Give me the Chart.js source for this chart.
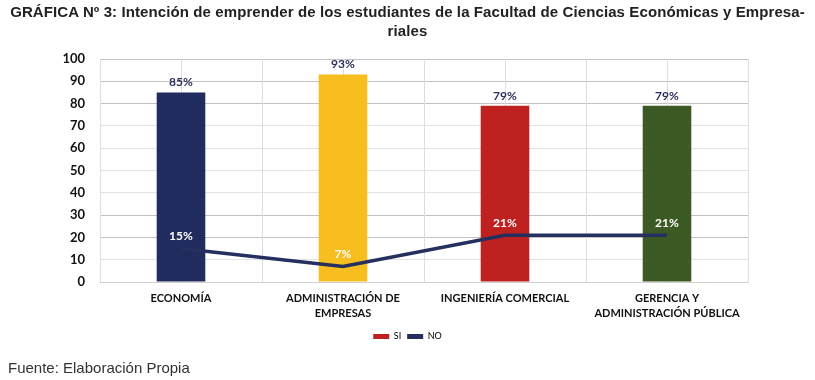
<!DOCTYPE html>
<html>
<head>
<meta charset="utf-8">
<script src="https://cdn.jsdelivr.net/npm/chart.js@4"></script>
<style>
  html, body { margin: 0; padding: 0; background: #fff; }
  #wrap { position: relative; width: 815px; height: 380px; }
  #titulo {
    position: absolute; left: 0; top: 2px; width: 815px; text-align: center;
    font: bold 15px/19px "Liberation Sans", Arial, sans-serif; letter-spacing: 0.1px; color: #222;
  }
  #fuente {
    position: absolute; left: 8px; top: 359px;
    font: 15px/18px "Liberation Sans", Arial, sans-serif; color: #333;
  }
  canvas { position: absolute; left: 0; top: 0; }
</style>
</head>
<body>
<div id="wrap">
  <canvas id="intencionChart" width="815" height="380"></canvas>
  <div id="titulo">GRÁFICA Nº 3: Intención de emprender de los estudiantes de la Facultad de Ciencias Económicas y Empresa-<br>riales</div>
  <div id="fuente">Fuente: Elaboración Propia</div>
</div>
<script>
var carreras = [['ECONOMÍA'], ['ADMINISTRACIÓN DE', 'EMPRESAS'], ['INGENIERÍA COMERCIAL'], ['GERENCIA Y', 'ADMINISTRACIÓN PÚBLICA']];
var siData = [85, 93, 79, 79];
var noData = [15, 7, 21, 21];
var yTicks = [0, 10, 20, 30, 40, 50, 60, 70, 80, 90, 100];
var barColors = ['#202b5e', '#f8bd1f', '#bf2020', '#3d5a25'];

// etiquetas de datos (no hay plugin datalabels)
var valueLabels = {
    id: 'valueLabels',
    afterDatasetsDraw: function(chart) {
        var ctx = chart.ctx;
        ctx.save();
        ctx.textAlign = 'center';
        ctx.textBaseline = 'bottom';
        ctx.font = 'bold 12px Lato';
        chart.getDatasetMeta(0).data.forEach(function(bar, i) {
            ctx.fillStyle = '#2b2f5c';
            ctx.fillText(siData[i] + '%', bar.x, bar.y - 4);
        });
        chart.getDatasetMeta(1).data.forEach(function(pt, i) {
            ctx.fillStyle = '#ffffff';
            ctx.fillText(noData[i] + '%', pt.x, pt.y - 6);
        });
        ctx.restore();
    }
};

// lineas verticales en los bordes y centros de cada categoria
var halfGrid = {
    id: 'halfGrid',
    beforeDatasetsDraw: function(chart) {
        var area = chart.chartArea, ctx = chart.ctx;
        var step = (area.right - area.left) / carreras.length;
        ctx.save();
        ctx.strokeStyle = '#dedede';
        ctx.lineWidth = 1;
        for (var i = 0; i <= carreras.length * 2; i++) {
            var px = Math.round(area.left + i * step / 2) + 0.5;
            ctx.beginPath();
            ctx.moveTo(px, area.top);
            ctx.lineTo(px, area.bottom);
            ctx.stroke();
        }
        ctx.restore();
    }
};

var ctx = document.getElementById('intencionChart').getContext('2d');
var chart = new Chart(ctx, {
    type: 'bar',
    data: {
        labels: carreras,
        datasets: [{
            label: 'SI',
            data: siData,
            backgroundColor: barColors,
            barPercentage: 0.3,
            categoryPercentage: 1,
            order: 2
        }, {
            type: 'line',
            label: 'NO',
            data: noData,
            borderColor: '#25305f',
            backgroundColor: '#25305f',
            borderWidth: 3.5,
            pointRadius: 0,
            tension: 0,
            order: 1
        }]
    },
    options: {
        responsive: false,
        animation: false,
        layout: { padding: { left: 8, right: 8, top: 59, bottom: 29 } },
        plugins: {
            title: { display: false },
            legend: {
                position: 'bottom',
                labels: {
                    color: '#777',
                    font: { family: 'Lato', size: 9 },
                    boxWidth: 16,
                    boxHeight: 5,
                    padding: 6,
                    generateLabels: function(chart) {
                        return [
                            { text: 'SI', fillStyle: '#bf2020', strokeStyle: '#bf2020', lineWidth: 0, datasetIndex: 0 },
                            { text: 'NO', fillStyle: '#25305f', strokeStyle: '#25305f', lineWidth: 0, datasetIndex: 1 }
                        ];
                    }
                }
            },
            tooltip: { enabled: false }
        },
        scales: {
            x: {
                afterFit: function(scale) { scale.height = 44; },
                grid: { display: false },
                border: { color: '#d0d0d0' },
                ticks: {
                    color: '#111',
                    font: { family: 'Lato', size: 11, weight: 'bold', lineHeight: 1.35 },
                    padding: 1,
                    maxRotation: 0,
                    autoSkip: false
                }
            },
            y: {
                min: 0,
                max: 100,
                afterBuildTicks: function(scale) {
                    scale.ticks = yTicks.map(function(v) { return { value: v }; });
                },
                afterFit: function(scale) { scale.width = 92; },
                grid: {
                    color: function(c) {
                        var v = c.tick.value;
                        if (v === 100 || v === 90 || v === 80 || v === 30 || v === 20) return '#c6bfc8';
                        return '#e2e2e2';
                    },
                    drawTicks: false
                },
                border: { display: false },
                ticks: {
                    color: '#111',
                    font: { family: 'Lato', size: 13, weight: 'bold' },
                    padding: 15
                }
            },
            // eje vacio a la derecha solo para dejar el margen
            margen: {
                position: 'right',
                min: 0,
                max: 100,
                afterFit: function(scale) { scale.width = 59; },
                grid: { display: false },
                border: { display: false },
                ticks: { display: false }
            }
        }
    },
    plugins: [halfGrid, valueLabels]
});
</script>
</body>
</html>
